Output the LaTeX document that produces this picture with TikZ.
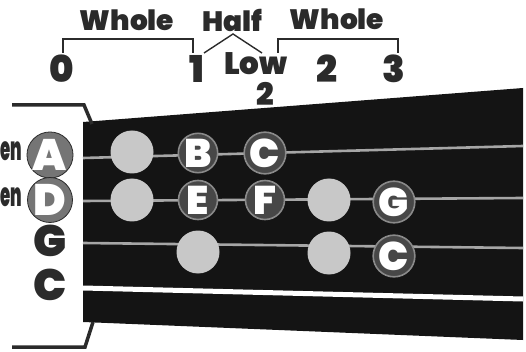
\documentclass[tikz,border=0pt]{standalone}
\usepackage{fontspec}
\IfFontExistsTF{Poppins Black}{\setmainfont{Poppins}[BoldFont={Poppins Black}]}{%
  \IfFontExistsTF{Poppins ExtraBold}{\setmainfont{Poppins}[BoldFont={Poppins ExtraBold}]}{\setmainfont{Poppins}}}
\usepackage{tikz}
\usetikzlibrary{calc,positioning}
\definecolor{fundo}{HTML}{FFFFFF}
\definecolor{braco}{HTML}{141414}
\definecolor{corda}{HTML}{A6A6A6}
\definecolor{cinza}{HTML}{C8C8C8}
\definecolor{escuro}{HTML}{474747}
\definecolor{aro}{HTML}{8A8A8A}
\definecolor{tinta}{HTML}{2B2B2B}
\definecolor{solta}{HTML}{757575}
\tikzset{
  nota/.style={circle,draw=aro,line width=1.6pt,fill=escuro,minimum size=39pt,inner sep=0pt,
    text=white,font=\bfseries\fontsize{40}{40}\selectfont},
  vazio/.style={circle,fill=cinza,minimum size=43pt,inner sep=0pt},
  aberta/.style={circle,draw=tinta,line width=0.8pt,fill=solta,minimum size=37pt,inner sep=0pt,
    text=white,font=\bfseries\fontsize{44}{44}\selectfont},
  corda nome/.style={text=tinta,inner sep=0pt,font=\bfseries\fontsize{44}{44}\selectfont},
  rotulo/.style={text=tinta,inner sep=0pt,font=\bfseries\fontsize{28}{28}\selectfont},
  numero/.style={text=tinta,inner sep=0pt,font=\bfseries\fontsize{37}{37}\selectfont},
  traco/.style={tinta,line width=1.4pt},
  chave/.style={tinta,line width=3.5pt}
}

\begin{document}
\begin{tikzpicture}[x=1pt,y=-1pt]
  \useasboundingbox (0,0) rectangle (526,352);
  % braco
  \fill[braco] (83,122) -- (523,88) -- (523,340) -- (83,322) -- cycle;
  \draw[fundo,line width=5pt] (83,288) -- (523,299);
  % cordas
  \coordinate (aI) at (83,158);  \coordinate (aF) at (523,146);
  \coordinate (dI) at (83,201);  \coordinate (dF) at (523,198);
  \coordinate (gI) at (83,243);  \coordinate (gF) at (523,248);
  \begin{scope}[corda,line width=2.6pt]
    \draw (aI) -- (aF);
    \draw (dI) -- (dF);
    \draw (gI) -- (gF);
  \end{scope}
  % chaves laterais
  \draw[chave] (12,105) -- (84,105) -- (92,124);
  \draw[chave] (12,347) -- (85,347) -- (93,322);
  % casas
  \node[vazio] (a0) at (132,152) {};
  \node[nota]  (a1) at (198,153) {B};
  \node[nota]  (a2) at (265,153) {C};
  \node[vazio] (d0) at (132,200) {};
  \node[nota]  (d1) at (198,200) {E};
  \node[nota]  (d2) at (265,200) {F};
  \node[vazio] (d3) at (329,200) {};
  \node[nota]  (d4) at (394,202) {G};
  \node[vazio] (g1) at (198,252) {};
  \node[vazio] (g3) at (329,253) {};
  \node[nota]  (g4) at (394,256) {C};
  % cordas soltas
  \node[aberta] (cordaA) at (50,155) {A};
  \node[aberta] (cordaD) at (50,200) {D};
  \node[corda nome] (cordaG) at (50,241) {G};
  \node[corda nome] (cordaC) at (50,285) {C};
  \node[rotulo,anchor=west,xscale=0.5,font=\bfseries\fontsize{33}{33}\selectfont] (soltaA) at (0.5,151) {en};
  \node[rotulo,anchor=west,xscale=0.5,font=\bfseries\fontsize{33}{33}\selectfont] (soltaD) at (0.5,197) {en};
  % intervalos
  \node[rotulo] (tom1) at (127,20) {Whole};
  \node[rotulo] (semi) at (232,20) {Half};
  \node[rotulo] (tom2) at (337,19) {Whole};
  \node[numero] (dedo0) at (62,69) {0};
  \node[numero] (dedo1) at (197,69) {1};
  \node[numero,font=\bfseries\fontsize{31}{31}\selectfont] (baixo) at (256,64) {Low};
  \node[numero,font=\bfseries\fontsize{31}{31}\selectfont] (baixo2) at (265,94) {2};
  \node[numero] (dedo2) at (327,69) {2};
  \node[numero] (dedo3) at (394,69) {3};
  \draw[traco] (63,53) -- (63,39) -- (193,39) -- (193,53);
  \draw[traco] (204,53) -- (233,34) -- (262,53);
  \draw[traco] (278,53) -- (278,39) -- (398,39) -- (398,53);
\end{tikzpicture}
\end{document}
